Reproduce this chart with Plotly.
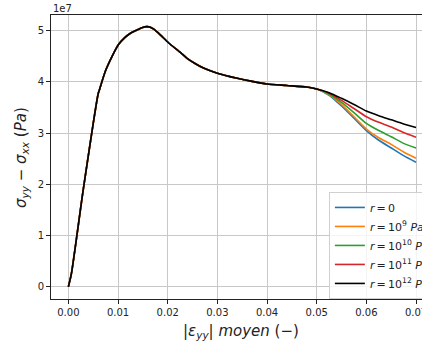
import plotly.graph_objects as go

# strain (|eps_yy| moyen) of the shared part of the curves
strain_common = [0.0, 0.0006, 0.003, 0.006, 0.0062, 0.0074, 0.0088, 0.0101, 0.0113, 0.0125,
                 0.0137, 0.0148, 0.0158, 0.0165, 0.0172, 0.0185, 0.0202, 0.0225, 0.0239, 0.0255,
                 0.0272, 0.030, 0.034, 0.037, 0.040, 0.044, 0.048, 0.050]
# stress difference in units of 1e7 Pa
stress_common = [0.0, 0.25, 1.90, 3.77, 3.83, 4.20, 4.50, 4.73, 4.86, 4.95,
                 5.01, 5.06, 5.08, 5.07, 5.03, 4.92, 4.76, 4.58, 4.46, 4.36,
                 4.27, 4.17, 4.07, 4.01, 3.96, 3.93, 3.90, 3.86]

strain_branch = [0.0525, 0.055, 0.0575, 0.06, 0.0625, 0.065, 0.0675, 0.07]
stress_r0 = [3.74, 3.53, 3.29, 3.05, 2.86, 2.71, 2.56, 2.43]
stress_r1e9 = [3.75, 3.56, 3.32, 3.08, 2.91, 2.78, 2.63, 2.51]
stress_r1e10 = [3.76, 3.60, 3.40, 3.19, 3.05, 2.93, 2.80, 2.71]
stress_r1e11 = [3.78, 3.64, 3.48, 3.32, 3.21, 3.12, 3.01, 2.92]
stress_r1e12 = [3.79, 3.68, 3.56, 3.43, 3.34, 3.26, 3.18, 3.11]

T = "\u2009"  # thin space, as in mathtext
labels = [f"<i>r</i>{T}={T}0",
          f"<i>r</i>{T}={T}10<sup>9</sup> <i>Pa</i>",
          f"<i>r</i>{T}={T}10<sup>10</sup> <i>Pa</i>",
          f"<i>r</i>{T}={T}10<sup>11</sup> <i>Pa</i>",
          f"<i>r</i>{T}={T}10<sup>12</sup> <i>Pa</i>"]
colors = ["#1f77b4", "#ff7f0e", "#2ca02c", "#d62728", "#000000"]
branches = [stress_r0, stress_r1e9, stress_r1e10, stress_r1e11, stress_r1e12]

y_ticks = [0, 1, 2, 3, 4, 5]
x_ticks = [0.0, 0.01, 0.02, 0.03, 0.04, 0.05, 0.06, 0.07]
SCALE = 1e7

fig = go.Figure()
for lab, col, br in zip(labels, colors, branches):
    xs = strain_common + strain_branch
    ys = [v * SCALE for v in stress_common + br]
    fig.add_trace(go.Scatter(x=xs, y=ys, mode="lines", name=lab,
                             line=dict(color=col, width=1.6, shape="spline", smoothing=0.6)))

font = "DejaVu Sans"
fig.update_layout(
    width=422, height=345,
    margin=dict(l=51, r=0, t=15, b=46, autoexpand=False),
    paper_bgcolor="white", plot_bgcolor="white",
    font=dict(family=font, size=10, color="#222"),
    showlegend=True,
    legend=dict(x=0.749, y=0.377, xanchor="left", yanchor="top",
                bgcolor="rgba(255,255,255,0.8)", bordercolor="#d0d0d0", borderwidth=1,
                font=dict(family=font, size=11, color="#222"),
                tracegroupgap=0, itemwidth=30),
)
fig.update_xaxes(
    automargin=False, ticklabeloverflow="allow",
    range=[-0.0035, 0.0712], tickvals=x_ticks,
    ticktext=[f"{v:.2f}" for v in x_ticks],
    showgrid=True, gridcolor="#c8c8c8", gridwidth=1,
    showline=True, linecolor="#222", linewidth=1, mirror=True,
    ticks="outside", ticklen=4, tickcolor="#222", zeroline=False,
)
fig.update_yaxes(
    automargin=False,
    range=[-0.24 * SCALE, 5.307 * SCALE],
    tickvals=[v * SCALE for v in y_ticks], ticktext=[str(v) for v in y_ticks],
    showgrid=True, gridcolor="#c8c8c8", gridwidth=1,
    showline=True, linecolor="#222", linewidth=1, mirror=False,
    ticks="outside", ticklen=4, tickcolor="#222", zeroline=False,
)
# axis titles
fig.add_annotation(text="<i>σ<sub>yy</sub></i> − <i>σ<sub>xx</sub></i> (<i>Pa</i>)",
                   xref="paper", yref="paper", x=-0.0809, y=0.5, textangle=-90,
                   xanchor="center", yanchor="middle", showarrow=False,
                   font=dict(family=font, size=15, color="#222"))
fig.add_annotation(text="|<i>ε<sub>yy</sub></i>| <i>moyen</i> (−)",
                   xref="paper", yref="paper", x=0.512, y=-0.1127,
                   xanchor="center", yanchor="middle", showarrow=False,
                   font=dict(family=font, size=15, color="#222"))
fig.add_annotation(text="1e7", xref="paper", yref="paper", x=0, y=1.0246,
                   xanchor="left", yanchor="middle", showarrow=False,
                   font=dict(family=font, size=10, color="#222"))

# remove the browser's default 8px body margin so the figure sits at the page origin
fig.write_html("out.html", config={"displayModeBar": False},
               post_script="document.body.style.margin='0px';")
